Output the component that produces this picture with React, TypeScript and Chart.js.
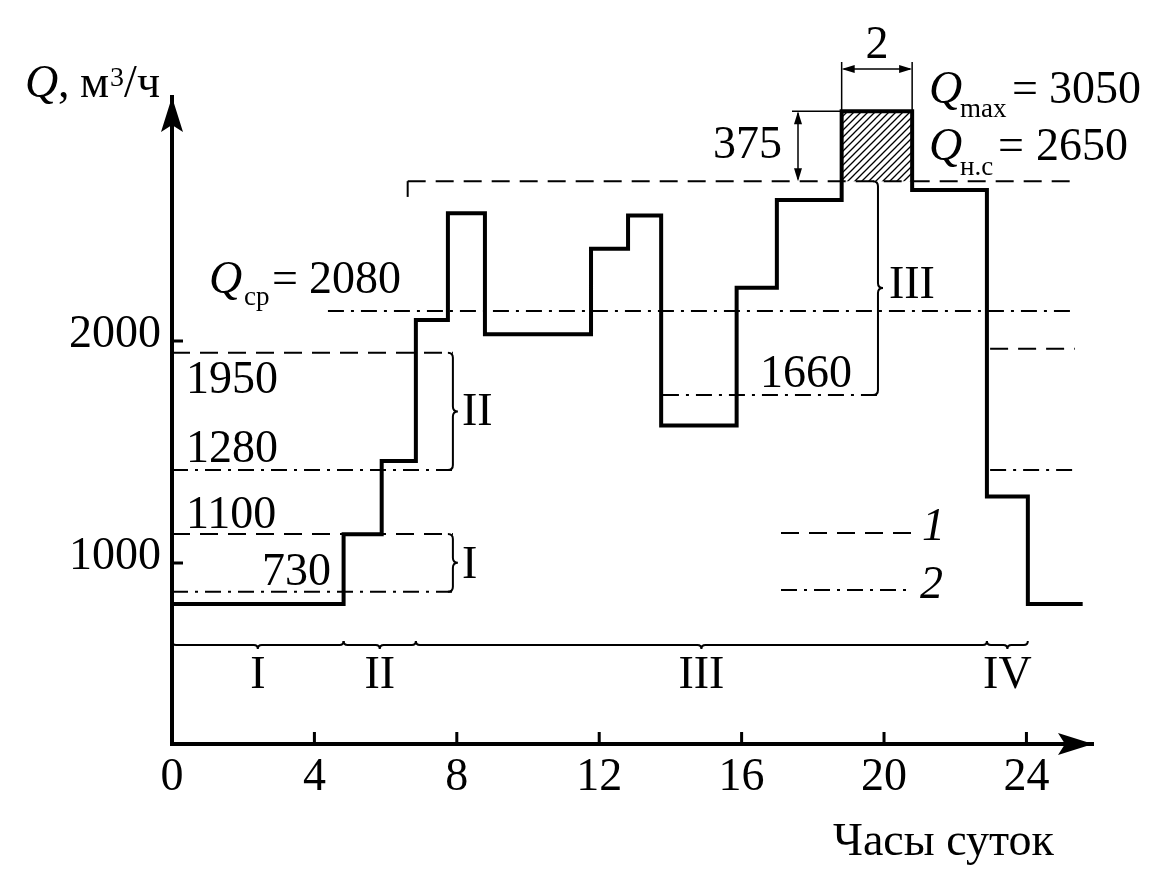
import React, { useEffect, useRef } from "react";
import { Chart, registerables } from "chart.js";

Chart.register(...registerables);

// ---- data (hours of the day, water flow Q in m3/h as drawn) ----
const hours = [0, 4.82, 5.89, 6.85, 7.75, 8.79, 11.77, 12.81, 13.74, 15.86, 16.99, 18.81, 20.79, 22.89, 24.04, 25.58];
const flows = [815, 1130, 1460, 2095, 2575, 2030, 2415, 2565, 1620, 2240, 2635, 3035, 2680, 1300, 815, 815];

const xTickValues = [0, 4, 8, 12, 16, 20, 24];
const yTickValues = [1000, 2000];
const xRange = [0, 25.87];
const yRange = [185, 3099];

const peakHours = [18.81, 20.79];
const peakTop = 3035; // Qmax
const nsLevel = 2720; // Qн.с
const nsHours = [6.62, 25.25];
const nsStub = 2649;
const avgLevel = 2135; // Qср
const avgHours = [4.38, 25.36];
const leftHours = [0, 7.89];
const rightHours = [22.98, 25.36];
const level1950 = 1947;
const level1280 = 1419;
const level1100 = 1131;
const level730 = 871;
const level1950right = 1965;
const level1280right = 1419;
const level1660 = 1757;
const hours1660 = [13.79, 19.83];
const periodBounds = [0, 4.82, 6.85, 22.89, 24.04];
const periodNames = ["I", "II", "III", "IV"];
const periodLevel = 631;

const FONT = '"Liberation Serif", "Times New Roman", serif';
const DASH = [18, 10];
const DASHDOT = [16, 7, 3, 7];

function makeHatch(ctx: CanvasRenderingContext2D) {
  const s = 7;
  const c = document.createElement("canvas");
  c.width = s;
  c.height = s;
  const g = c.getContext("2d")!;
  g.strokeStyle = "#000";
  g.lineWidth = 1.3;
  g.beginPath();
  g.moveTo(0, s);
  g.lineTo(s, 0);
  g.moveTo(-2, 2);
  g.lineTo(2, -2);
  g.moveTo(s - 2, s + 2);
  g.lineTo(s + 2, s - 2);
  g.stroke();
  return ctx.createPattern(c, "repeat");
}

const seg = (xs: number[], y: number) => xs.map((x) => ({ x, y }));

const annotations = {
  id: "annotations",
  afterDraw(chart: any) {
    const ctx: CanvasRenderingContext2D = chart.ctx;
    const xs = chart.scales.x;
    const ys = chart.scales.y;
    const X = (v: number) => xs.getPixelForValue(v);
    const Y = (v: number) => ys.getPixelForValue(v);
    const a = chart.chartArea;
    ctx.save();
    ctx.fillStyle = "#000";
    ctx.strokeStyle = "#000";
    ctx.lineCap = "butt";

    // axis arrows
    const arrowUp = (x: number, y: number) => {
      ctx.beginPath();
      ctx.moveTo(x, y);
      ctx.lineTo(x + 11, y + 35);
      ctx.lineTo(x, y + 28);
      ctx.lineTo(x - 11, y + 35);
      ctx.closePath();
      ctx.fill();
    };
    const arrowRight = (x: number, y: number) => {
      ctx.beginPath();
      ctx.moveTo(x, y);
      ctx.lineTo(x - 35, y - 11);
      ctx.lineTo(x - 28, y);
      ctx.lineTo(x - 35, y + 11);
      ctx.closePath();
      ctx.fill();
    };
    arrowUp(a.left, a.top);
    arrowRight(a.right, a.bottom);

    // inward tick marks
    ctx.lineWidth = 3;
    ctx.beginPath();
    yTickValues.forEach((v) => {
      ctx.moveTo(a.left, Y(v));
      ctx.lineTo(a.left + 11, Y(v));
    });
    xTickValues.slice(1).forEach((v) => {
      ctx.moveTo(X(v), a.bottom);
      ctx.lineTo(X(v), a.bottom - 12);
    });
    ctx.stroke();

    // braces
    ctx.lineWidth = 2;
    const vBrace = (x: number, y1: number, y2: number, r = 5) => {
      const ym = (y1 + y2) / 2;
      ctx.beginPath();
      ctx.moveTo(x - r, y1);
      ctx.quadraticCurveTo(x, y1, x, y1 + r);
      ctx.lineTo(x, ym - r);
      ctx.quadraticCurveTo(x, ym, x + r, ym);
      ctx.quadraticCurveTo(x, ym, x, ym + r);
      ctx.lineTo(x, y2 - r);
      ctx.quadraticCurveTo(x, y2, x - r, y2);
      ctx.stroke();
    };
    vBrace(X(leftHours[1]), Y(level1950), Y(level1280));
    vBrace(X(leftHours[1]), Y(level1100), Y(level730));
    vBrace(X(hours1660[1]), Y(nsLevel), Y(level1660));

    const hBrace = (x1: number, x2: number, y: number, r = 4) => {
      const xm = (x1 + x2) / 2;
      ctx.beginPath();
      ctx.moveTo(x1, y - r);
      ctx.quadraticCurveTo(x1, y, x1 + r, y);
      ctx.lineTo(xm - r, y);
      ctx.quadraticCurveTo(xm, y, xm, y + r);
      ctx.quadraticCurveTo(xm, y, xm + r, y);
      ctx.lineTo(x2 - r, y);
      ctx.quadraticCurveTo(x2, y, x2, y - r);
      ctx.stroke();
    };
    const py = Y(periodLevel);
    for (let i = 0; i < periodNames.length; i++) {
      hBrace(X(periodBounds[i]), X(periodBounds[i + 1]), py);
    }

    // dimension lines
    ctx.lineWidth = 1.5;
    const xl = X(peakHours[0]);
    const xr = X(peakHours[1]);
    const yt = Y(peakTop);
    const yb = Y(nsLevel);
    ctx.beginPath();
    ctx.moveTo(xl, yt);
    ctx.lineTo(xl, 62);
    ctx.moveTo(xr, yt);
    ctx.lineTo(xr, 62);
    ctx.moveTo(792, yt);
    ctx.lineTo(xl, yt);
    ctx.moveTo(xl + 2, 69);
    ctx.lineTo(xr - 2, 69);
    ctx.moveTo(798, yt + 2);
    ctx.lineTo(798, yb - 2);
    ctx.stroke();
    const head = (x: number, y: number, dx: number, dy: number) => {
      const L = 13;
      const W = 4;
      const px = -dy;
      const pyy = dx;
      ctx.beginPath();
      ctx.moveTo(x, y);
      ctx.lineTo(x - dx * L + px * W, y - dy * L + pyy * W);
      ctx.lineTo(x - dx * L - px * W, y - dy * L - pyy * W);
      ctx.closePath();
      ctx.fill();
    };
    head(xl, 69, -1, 0);
    head(xr, 69, 1, 0);
    head(798, yt, 0, -1);
    head(798, yb, 0, 1);

    // legend samples
    ctx.lineWidth = 2;
    ctx.setLineDash(DASH);
    ctx.beginPath();
    ctx.moveTo(781, 533);
    ctx.lineTo(912, 533);
    ctx.stroke();
    ctx.setLineDash(DASHDOT);
    ctx.beginPath();
    ctx.moveTo(781, 590);
    ctx.lineTo(912, 590);
    ctx.stroke();
    ctx.setLineDash([]);

    // texts
    const font = (size = 46, italic = false) => `${italic ? "italic " : ""}${size}px ${FONT}`;
    const txt = (s: string, x: number, y: number, size = 46, italic = false, align: CanvasTextAlign = "left") => {
      ctx.font = font(size, italic);
      ctx.textAlign = align;
      ctx.textBaseline = "alphabetic";
      ctx.fillText(s, x, y);
      return x + ctx.measureText(s).width;
    };
    // axis titles
    txt("Q", 25, 97, 46, true);
    txt(",", 58, 97);
    let cx = txt("м", 80, 97);
    cx = txt("3", cx + 1, 86, 28);
    txt("/ч", cx, 97);
    txt("Часы суток", 833, 855);

    // dimension texts
    txt("2", (xl + xr) / 2, 58, 46, false, "center");
    txt("375", 782, 158, 46, false, "right");

    // Q labels
    txt("Q", 929, 103, 46, true);
    txt("max", 960, 117, 27);
    txt("=", 1012, 103);
    txt("3050", 1049, 103);
    txt("Q", 929, 160, 46, true);
    txt("н.с", 960, 175, 27);
    txt("=", 998, 160);
    txt("2650", 1036, 160);
    txt("Q", 209, 293, 46, true);
    txt("ср", 244, 305, 27);
    txt("=", 272, 293);
    txt("2080", 309, 293);

    // level values
    txt("1950", 186, 393);
    txt("1280", 186, 462);
    txt("1100", 186, 528);
    txt("730", 262, 585);
    txt("1660", 760, 387);

    // brace labels
    txt("II", X(leftHours[1]) + 9, 425);
    txt("I", X(leftHours[1]) + 9, 578);
    txt("III", X(hours1660[1]) + 11, 298);
    for (let i = 0; i < periodNames.length; i++) {
      txt(periodNames[i], (X(periodBounds[i]) + X(periodBounds[i + 1])) / 2, 688, 46, false, "center");
    }
    txt("1", 922, 540, 46, true);
    txt("2", 920, 598, 46, true);

    ctx.restore();
  },
};

export default function App() {
  const ref = useRef<HTMLCanvasElement | null>(null);
  useEffect(() => {
    const canvas = ref.current!;
    const ctx = canvas.getContext("2d")!;
    const hatch = makeHatch(ctx);
    const line = (data: any[], dash: number[] = [], width = 2) => ({
      data,
      borderColor: "#000",
      borderWidth: width,
      borderDash: dash,
      pointRadius: 0,
      fill: false,
      tension: 0,
    });
    const chart = new Chart(canvas, {
      type: "line",
      data: {
        datasets: [
          {
            ...line(hours.map((h, i) => ({ x: h, y: flows[i] })), [], 4),
            stepped: "before",
            borderJoinStyle: "miter",
          } as any,
          line(seg(nsHours, nsLevel), DASH),
          line([{ x: nsHours[0], y: nsStub }, { x: nsHours[0], y: nsLevel }]),
          line(seg(avgHours, avgLevel), DASHDOT),
          line(seg(leftHours, level1950), DASH),
          line(seg(leftHours, level1280), DASHDOT),
          line(seg(leftHours, level1100), DASH),
          line(seg(leftHours, level730), DASHDOT),
          line(seg(rightHours, level1950right), DASH),
          line(seg(rightHours, level1280right), DASHDOT),
          line(seg(hours1660, level1660), DASHDOT),
          {
            data: seg(peakHours, peakTop),
            borderWidth: 0,
            borderColor: "rgba(0,0,0,0)",
            pointRadius: 0,
            backgroundColor: hatch as any,
            fill: { value: nsLevel },
          } as any,
        ],
      },
      options: {
        responsive: false,
        animation: false,
        devicePixelRatio: 1,
        layout: { padding: { left: 0, right: 63, top: 97, bottom: 0 } },
        plugins: { legend: { display: false }, tooltip: { enabled: false } },
        scales: {
          x: {
            type: "linear",
            min: xRange[0],
            max: xRange[1],
            afterBuildTicks: (s: any) => {
              s.ticks = xTickValues.map((v) => ({ value: v }));
            },
            afterFit: (s: any) => {
              s.height = 131;
            },
            grid: { display: true, drawOnChartArea: false, drawTicks: false },
            border: { display: true, width: 4, color: "#000" },
            ticks: {
              color: "#000",
              font: { family: FONT, size: 46 },
              padding: 6,
              maxRotation: 0,
              autoSkip: false,
              callback: (v: any) => String(v),
            },
          },
          y: {
            type: "linear",
            min: yRange[0],
            max: yRange[1],
            afterBuildTicks: (s: any) => {
              s.ticks = yTickValues.map((v) => ({ value: v }));
            },
            afterFit: (s: any) => {
              s.width = 172;
            },
            grid: { display: true, drawOnChartArea: false, drawTicks: false },
            border: { display: true, width: 4, color: "#000" },
            ticks: {
              color: "#000",
              font: { family: FONT, size: 46 },
              padding: 11,
              labelOffset: -6,
              autoSkip: false,
              callback: (v: any) => String(v),
            },
          },
        },
      },
      plugins: [annotations],
    });
    return () => chart.destroy();
  }, []);
  return (
    <div style={{ position: "absolute", left: 0, top: 0, width: 1156, height: 875, background: "#fff" }}>
      <canvas ref={ref} width={1156} height={875} style={{ width: 1156, height: 875 }} />
    </div>
  );
}
